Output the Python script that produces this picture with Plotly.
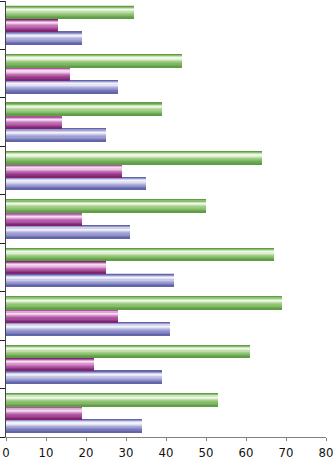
import plotly.graph_objects as go

# Categories listed bottom-to-top (plotly horizontal order)
categories = ["C1", "C2", "C3", "C4", "C5", "C6", "C7", "C8", "C9"]
series_names = ["Series 1", "Series 2", "Series 3"]
blue_vals = [34, 39, 41, 42, 31, 35, 25, 28, 19]
purple_vals = [19, 22, 28, 25, 19, 29, 14, 16, 13]
green_vals = [53, 61, 69, 67, 50, 64, 39, 44, 32]
x_ticks = [0, 10, 20, 30, 40, 50, 60, 70, 80]

series_values = [blue_vals, purple_vals, green_vals]
palettes = [
    ("#5b5ea6", "#9c9dd2", "#f2f2fa"),
    ("#7a1f6c", "#b55aa8", "#f8daf2"),
    ("#5a9a42", "#8fc472", "#f0f8e8"),
]
profile = [0.05, 0.45, 0.8, 1.0, 0.92, 0.75, 0.6, 0.5, 0.38, 0.2, 0.05]


def hex2rgb(h):
    h = h.lstrip("#")
    return [int(h[i:i + 2], 16) for i in (0, 2, 4)]


def mix(pal, t):
    d, m, l = (hex2rgb(c) for c in pal)
    if t <= 0.5:
        a, b, f = d, m, t / 0.5
    else:
        a, b, f = m, l, (t - 0.5) / 0.5
    c = [round(a[i] + (b[i] - a[i]) * f) for i in range(3)]
    return "rgb(%d,%d,%d)" % tuple(c)


ypos = list(range(len(categories)))
group_w = 0.8
hb = group_w / 3
N = len(profile)

fig = go.Figure()
for s, vals in enumerate(series_values):
    series_top = -group_w / 2 + (s + 1) * hb
    for k, t in enumerate(profile):
        bottom = series_top - (k + 1) * hb / N
        fig.add_trace(go.Bar(
            y=ypos, x=vals, orientation="h",
            width=hb / N * 1.05, offset=bottom,
            marker=dict(color=mix(palettes[s], t), line=dict(width=0)),
            name=series_names[s], showlegend=False, hoverinfo="x",
        ))

fig.update_layout(
    barmode="overlay",
    width=334, height=459,
    margin=dict(l=6, r=8, t=1, b=22, autoexpand=False),
    plot_bgcolor="white", paper_bgcolor="white",
    font=dict(family="Liberation Sans Narrow, DejaVu Sans Condensed, Liberation Sans, sans-serif", size=13, color="#111"),
    showlegend=False,
)
fig.update_xaxes(
    range=[0, 80], tickvals=x_ticks, ticktext=[str(v) for v in x_ticks],
    showgrid=False, zeroline=False, showline=True, linecolor="#808080", linewidth=1,
    ticks="outside", ticklen=3, tickcolor="#808080", automargin=False,
    ticklabeloverflow="allow",
)
fig.update_yaxes(
    range=[-0.5, len(categories) - 0.5],
    tickvals=[i - 0.5 for i in range(len(categories) + 1)],
    ticktext=["" for _ in range(len(categories) + 1)],
    showgrid=False, zeroline=False, showline=True, linecolor="#444", linewidth=1,
    ticks="outside", ticklen=5, tickcolor="#222", automargin=False,
)
fig.write_html("out.html", config={"displayModeBar": False},
               post_script="document.body.style.margin='0';")
